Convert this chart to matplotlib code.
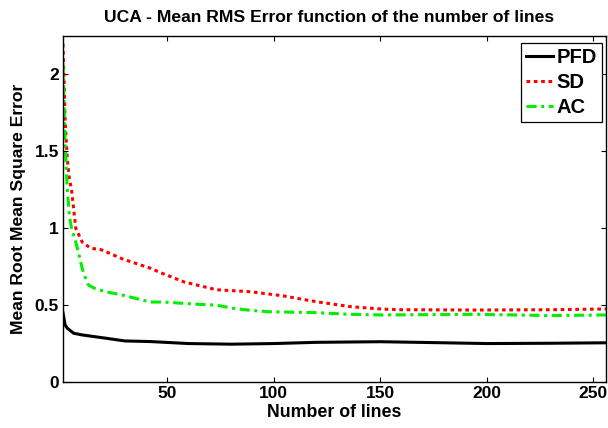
import matplotlib
matplotlib.use("Agg")
import matplotlib.pyplot as plt

plt.rcParams['font.family'] = ['Liberation Sans', 'DejaVu Sans']
plt.rcParams['font.weight'] = 'bold'

# Mean RMS error versus number of lines (sampled along each curve)
pfd_x = [1, 2, 3, 6, 10, 21, 30, 42, 60, 80, 100, 120, 150, 180, 200, 230, 256]
pfd_y = [0.45, 0.37, 0.35, 0.317, 0.306, 0.285, 0.267, 0.263, 0.25, 0.246,
         0.25, 0.258, 0.262, 0.255, 0.25, 0.252, 0.255]

sd_x = [1, 2, 3, 4, 5, 7, 10, 14, 19, 29, 42, 47, 58, 73, 89, 104, 120, 136,
        151, 160, 195, 230, 256]
sd_y = [2.20, 1.70, 1.45, 1.32, 1.25, 1.00, 0.91, 0.87, 0.86, 0.80, 0.74,
        0.71, 0.65, 0.60, 0.587, 0.561, 0.522, 0.49, 0.474, 0.47, 0.468,
        0.47, 0.475]

ac_x = [1, 2, 3, 4, 5, 7, 9, 10, 11, 13, 16, 21, 29, 42, 48, 65, 73, 81, 89,
        97, 120, 136, 151, 195, 230, 256]
ac_y = [2.075, 1.55, 1.256, 1.08, 1.0, 0.91, 0.80, 0.74, 0.695, 0.63, 0.608,
        0.587, 0.565, 0.52, 0.52, 0.505, 0.50, 0.479, 0.466, 0.457, 0.451,
        0.44, 0.436, 0.44, 0.432, 0.436]

x_ticks = [50, 100, 150, 200, 250]
y_ticks = [0, 0.5, 1, 1.5, 2]
y_tick_labels = ['0', '0.5', '1', '1.5', '2']

fig = plt.figure(figsize=(6.08, 4.28), dpi=100)
ax = fig.add_axes([63 / 608, 1 - 382 / 428, 543 / 608, 346 / 428])

ax.plot(pfd_x, pfd_y, color='black', lw=2.2, label='PFD')
ax.plot(sd_x, sd_y, color='red', lw=2.2, linestyle=(0, (1.2, 1.2)),
        dash_capstyle='butt', label='SD')
ax.plot(ac_x, ac_y, color='#00ee00', lw=2.2,
        linestyle=(0, (3.3, 1.5, 1.0, 1.5)), dash_capstyle='butt', label='AC')

ax.set_xlim(1, 256)
ax.set_ylim(0, 2.25)
ax.set_xticks(x_ticks)
ax.set_xticklabels([str(t) for t in x_ticks])
ax.set_yticks(y_ticks)
ax.set_yticklabels(y_tick_labels)
ax.tick_params(direction='in', top=True, right=True, length=3.5, width=0.8,
               labelsize=12.5, pad=3)
for lab in ax.get_xticklabels() + ax.get_yticklabels():
    lab.set_fontweight('bold')
for sp in ax.spines.values():
    sp.set_linewidth(1.0)

ax.set_title('UCA - Mean RMS Error function of the number of lines',
             fontsize=12.6, fontweight='bold', pad=10, x=0.49)
ax.set_xlabel('Number of lines', fontsize=12.8, fontweight='bold', labelpad=2)
ax.set_ylabel('Mean Root Mean Square Error', fontsize=12.6, fontweight='bold',
              labelpad=6)

leg = ax.legend(loc='upper right', bbox_to_anchor=(0.992, 0.98),
                borderaxespad=0, fancybox=False, framealpha=1,
                edgecolor='black', prop={'size': 14.5, 'weight': 'bold'},
                handlelength=1.35, handletextpad=0.15, labelspacing=0.3,
                borderpad=0.25)
leg.get_frame().set_linewidth(0.9)

fig.savefig('out.png', dpi=100)
